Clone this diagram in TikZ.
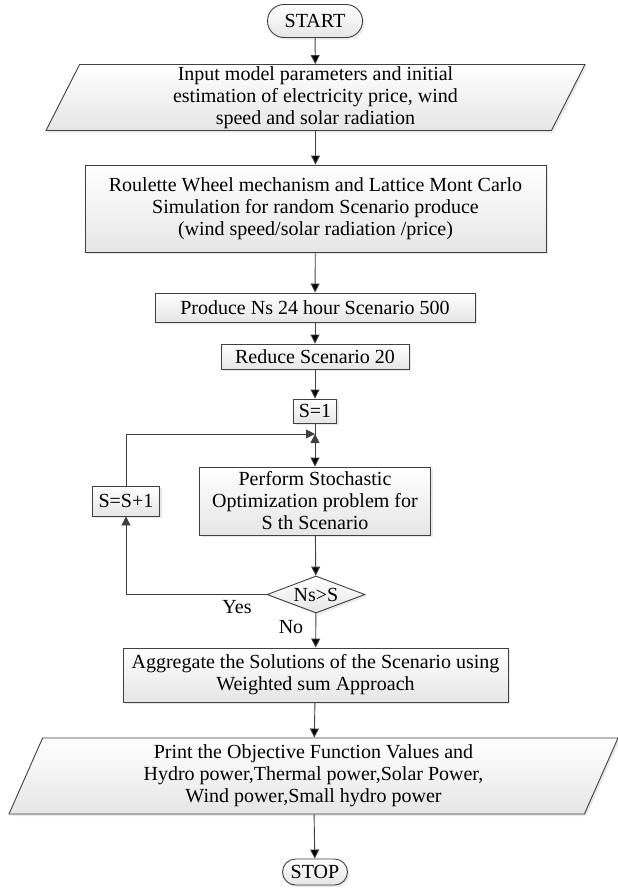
\documentclass[tikz,border=0pt]{standalone}
\usepackage{fontspec}
\setmainfont{Liberation Serif}
\usepackage{tikz}
\usetikzlibrary{shapes.geometric,shapes.misc,arrows.meta,shadows}
\definecolor{linegray}{RGB}{64,64,64}

\tikzset{
  base/.style={draw=linegray, line width=0.9pt, top color=white, bottom color=black!10,
    drop shadow={opacity=0.18, shadow xshift=2pt, shadow yshift=-2pt},
    inner sep=0.5pt, align=center, font=\fontsize{20}{22}\selectfont},
  term/.style={base, rounded rectangle},
  proc/.style={base, rectangle},
  io/.style={base, trapezium, trapezium left angle=62, trapezium right angle=118,
    trapezium stretches body},
  dec/.style={base, diamond, aspect=2.65},
  arr/.style={draw=linegray, line width=0.9pt, -{Triangle[width=9pt,length=9pt]}},
  lbl/.style={font=\fontsize{20}{22}\selectfont}
}

\begin{document}
\begin{tikzpicture}[x=1pt, y=-1pt]
  \useasboundingbox (0,0) rectangle (618,895);
  \node[term, minimum width=96, minimum height=33] (start) at (315,21) {START};
  \node[io, minimum width=539, minimum height=66] (input) at (315.5,97.5)
    {Input model parameters and initial\\ estimation of electricity price, wind\\ speed and solar radiation};
  \node[proc, minimum width=461, minimum height=87] (roul) at (315.5,208.5)
    {Roulette Wheel mechanism and Lattice Mont Carlo\\ Simulation for random Scenario produce\\ (wind speed/solar radiation /price)};
  \node[proc, minimum width=320, minimum height=29] (prod) at (315,307.5) {Produce Ns 24 hour Scenario 500};
  \node[proc, minimum width=188, minimum height=25] (red) at (315,356.5) {Reduce Scenario 20};
  \node[proc, minimum width=43, minimum height=24] (sinit) at (315,411) {S=1};
  \node[proc, minimum width=231, minimum height=68] (perf) at (315,501)
    {Perform Stochastic\\ Optimization problem for\\ S th Scenario};
  \node[proc, minimum width=67, minimum height=30] (sinc) at (126,501) {S=S+1};
  \node[dec, minimum width=98, minimum height=37] (check) at (316,594.5) {Ns>S};
  \node[proc, minimum width=385, minimum height=54] (agg) at (315.5,675)
    {Aggregate the Solutions of the Scenario using\\ Weighted sum Approach};
  \node[io, minimum width=609, minimum height=76] (out) at (313.5,776)
    {Print the Objective Function Values and\\ Hydro power,Thermal power,Solar Power,\\ Wind power,Small hydro power};
  \node[term, minimum width=66, minimum height=26] (stop) at (315,872) {STOP};
  \coordinate (join) at (315,434);

  \path[arr]
  (start) edge (input)
  (input) edge (roul)
  (roul) edge (prod)
  (prod) edge (red)
  (red) edge (sinit)
  (join) edge (perf)
  (perf) edge (check)
  (check) edge (agg)
  (agg) edge (out)
  (out) edge (stop);
  \draw[draw=linegray, line width=0.9pt] (sinit) -- (join);
  \draw[arr] (check.west) -| (sinc.south);
  \draw[arr] (sinc.north) |- (join);
  \node[lbl] (yes) at (237,607) {Yes};
  \node[lbl] (no) at (291,627) {No};
\end{tikzpicture}
\end{document}
